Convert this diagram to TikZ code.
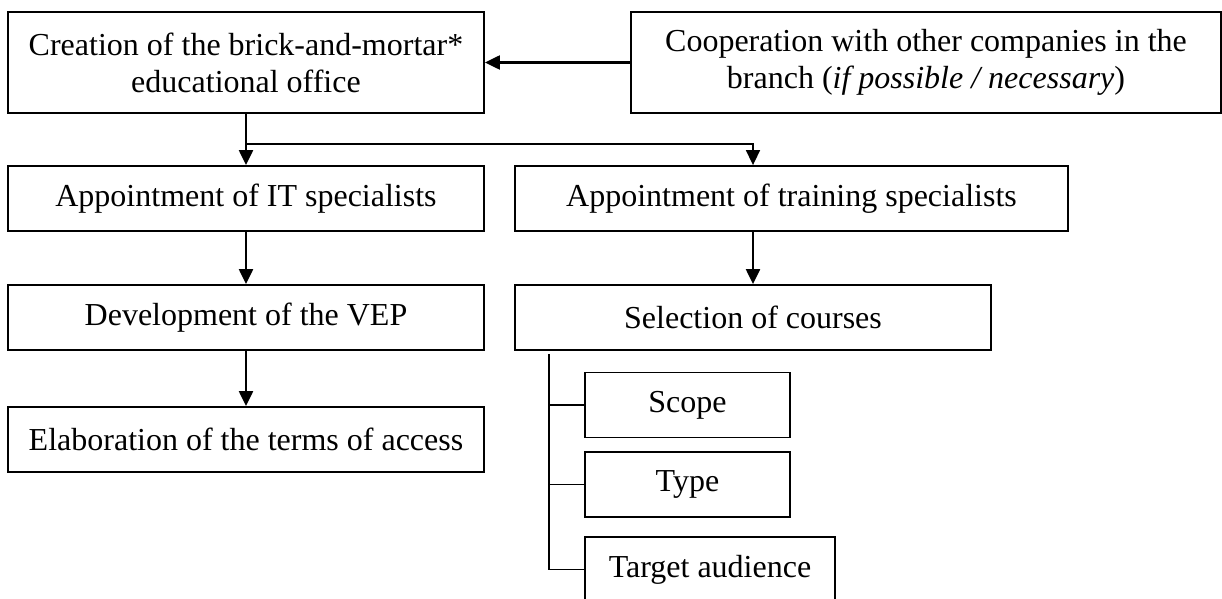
\documentclass[tikz,border=0pt]{standalone}
\usepackage{fontspec}
\setmainfont{Liberation Serif}
\usetikzlibrary{arrows.meta,positioning,calc}

\begin{document}
\begin{tikzpicture}[
  x=0.5pt, y=-0.5pt,
  box/.style={draw, line width=0.9pt, minimum width=238pt, minimum height=32.5pt, align=center, inner sep=0pt, font=\fontsize{16}{18.4}\selectfont},
  subbox/.style={box, minimum width=102.5pt},
  arr/.style={-{Triangle[length=7.5pt, width=7pt]}, line width=1.1pt},
  tie/.style={line width=0.9pt}
]
  \useasboundingbox (0,0) rectangle (1222,599);
  \node[box, minimum height=50.5pt] (create) at (246,62.5) {Creation of the brick-and-mortar*\\educational office};
  \node[box, minimum width=295pt, minimum height=50.5pt] (coop) at (926,62.5) {Cooperation with other companies in the\\branch (\textit{if possible / necessary})};
  \node[box] (it) at (246,198.5) {Appointment of IT specialists};
  \node[box, minimum width=276.5pt] (train) at (791.5,198.5) {Appointment of training specialists};
  \node[box] (vep) at (246,317.5) {Development of the VEP};
  \node[box] (sel) at (753,317.5) {Selection of courses};
  \node[box] (access) at (246,439.5) {Elaboration of the terms of access};
  \node[subbox] (scope) at (687.5,405) {Scope};
  \node[subbox] (type) at (687.5,484.5) {Type};
  \node[subbox, minimum width=125pt] (target) at (710,569.5) {Target audience};

  \draw[arr] (coop) -- (create);
  \draw[line width=1.1pt] (create.south) -- ++(0,30) coordinate (split);
  \draw[arr] (split) -- (it.north);
  \draw[arr, line width=0.8pt] (split) -| (sel.north |- train.north);
  \draw[arr] (train.south -| sel.north) -- (sel.north);
  \draw[arr] (it) -- (vep);
  \draw[arr] (vep) -- (access);
  % courses split into three
  \coordinate (trunk) at ($(sel.south west)+(35,3)$);
  \draw[tie] (trunk) |- (target.west);
  \draw[tie] (trunk |- scope.west) -- (scope.west);
  \draw[tie] (trunk |- type.west) -- (type.west);
\end{tikzpicture}
\end{document}
